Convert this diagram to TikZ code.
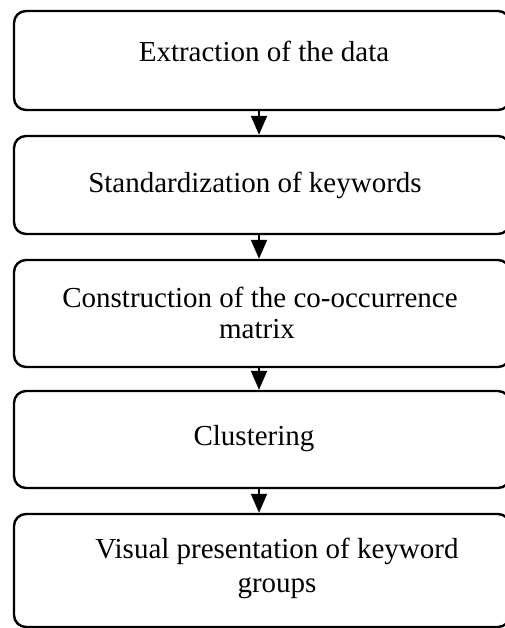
\documentclass[tikz,border=0pt]{standalone}
\usepackage{fontspec}
\setmainfont{Liberation Serif}
\usetikzlibrary{arrows.meta}
\begin{document}
\begin{tikzpicture}[x=1pt,y=-1pt,
  stepbox/.style={draw=black, line width=2.4pt, rounded corners=12pt,
    minimum width=496pt, inner sep=0pt, fill=white},
  steptext/.style={anchor=base, inner sep=0pt, font=\fontsize{29}{33}\selectfont},
  flow/.style={line width=2pt, -{Triangle[length=19pt,width=16pt]}}]
  \useasboundingbox (0,0) rectangle (505,628);
  % process boxes (they run past the right edge of the page)
  \node[stepbox, minimum height=99pt]  (b1) at (262,60.5) {};
  \node[stepbox, minimum height=98pt]  (b2) at (262,185) {};
  \node[stepbox, minimum height=107pt] (b3) at (262,313.5) {};
  \node[stepbox, minimum height=97pt]  (b4) at (262,439.5) {};
  \node[stepbox, minimum height=113pt] (b5) at (262,570.5) {};
  % labels
  \node[steptext] (t1)  at (264,62)  {Extraction of the data};
  \node[steptext] (t2)  at (255,193) {Standardization of keywords};
  \node[steptext] (t3a) at (260,307) {Construction of the co-occurrence};
  \node[steptext] (t3b) at (257,338) {matrix};
  \node[steptext] (t4)  at (254,445) {Clustering};
  \node[steptext] (t5a) at (277,558) {Visual presentation of keyword};
  \node[steptext] (t5b) at (277,592) {groups};
  % connectors
  \draw[flow] ([xshift=-3pt]b1.south) -- ([xshift=-3pt]b2.north);
  \draw[flow] ([xshift=-3pt]b2.south) -- ([xshift=-3pt]b3.north);
  \draw[flow] ([xshift=-3pt]b3.south) -- ([xshift=-3pt]b4.north);
  \draw[flow] ([xshift=-3pt]b4.south) -- ([xshift=-3pt]b5.north);
\end{tikzpicture}
\end{document}
